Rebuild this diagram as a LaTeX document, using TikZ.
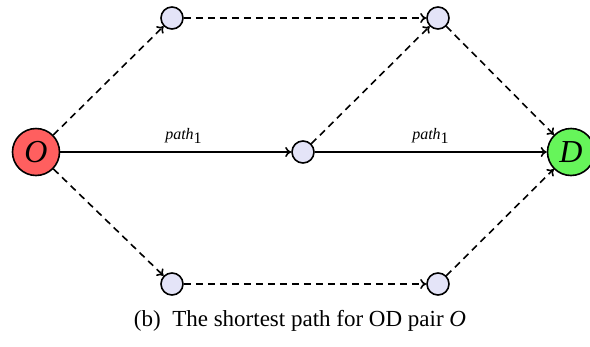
\documentclass[tikz,border=0pt]{standalone}
\usepackage{fontspec}
\setmainfont{Liberation Serif}
\usetikzlibrary{arrows.meta,positioning}
\definecolor{origin}{HTML}{FF5F5F}
\definecolor{dest}{HTML}{66F55A}
\definecolor{hop}{HTML}{E4E4F8}

\begin{document}
\begin{tikzpicture}[x=1pt,y=-1pt,>={To[length=6pt,width=10pt]},line width=1.6pt,
  endpt/.style={circle,draw,minimum size=47pt,inner sep=0pt,font=\fontsize{32}{36}\selectfont\itshape},
  hopnode/.style={circle,draw,fill=hop,minimum size=22pt,inner sep=0pt},
  flow/.style={->,dash pattern=on 7pt off 5pt},
  lbl/.style={above=4pt,font=\fontsize{16}{18}\selectfont}]
\useasboundingbox (0,0) rectangle (590,346);
% endpoints of the OD pair
\node[endpt,fill=origin] (O) at (36,152) {O};
\node[endpt,fill=dest] (D) at (571,152) {D};
% intermediate nodes
\node[hopnode] (m) at (303,152) {};
\node[hopnode] (t1) at (172,18) {};
\node[hopnode] (t2) at (438,18) {};
\node[hopnode] (b1) at (172,284) {};
\node[hopnode] (b2) at (438,284) {};
% shortest path
\draw[->] (O) -- node[lbl,xshift=8pt] {\textit{path}$_{\textrm{1}}$} (m);
\draw[->] (m) -- node[lbl] {\textit{path}$_{\textrm{1}}$} (D);
% other paths
\draw[flow] (O) -- (t1);
\draw[flow] (t1) -- (t2);
\draw[flow] (t2) -- (D);
\draw[flow] (m) -- (t2);
\draw[flow] (O) -- (b1);
\draw[flow] (b1) -- (b2);
\draw[flow] (b2) -- (D);
\node[font=\fontsize{23}{27}\selectfont] (cap) at (300,321) {(b)\enspace The shortest path for OD pair \textit{O}};
\end{tikzpicture}
\end{document}
